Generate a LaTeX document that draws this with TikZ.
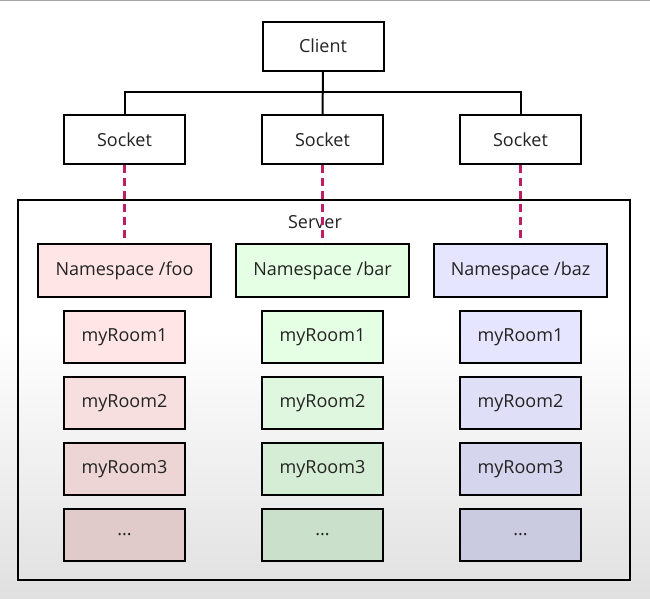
\documentclass[tikz,border=0pt]{standalone}
\usepackage{fontspec}
\setmainfont{Open Sans}
\usepackage{xcolor}
\definecolor{dash_pink}{RGB}{190,30,100}
\definecolor{txt_gray}{RGB}{35,35,35}
\newcommand{\roomdots}{...}
\usetikzlibrary{calc}

\begin{document}
\begin{tikzpicture}[x=1pt,y=-1pt,line width=2pt,
    box/.style={draw,rectangle,minimum width=121pt,minimum height=49pt,inner sep=0pt,
        text=txt_gray,font=\fontsize{18}{21}\selectfont},
    nsbox/.style={box,minimum width=173pt,minimum height=53pt},
    roombox/.style={box,minimum height=52pt},
    link/.style={dash_pink,line width=2.2pt,dash pattern=on 8pt off 5pt}]
            %背景
            \useasboundingbox (0,0) rectangle (650,598);
            \fill[white] (0,0) rectangle (650,330);
            \shade[top color=white,bottom color=black!12] (0,330) rectangle (650,598);
            \draw[black!35,line width=1pt] (0,0.5)--(650,0.5);
            %クライアントとソケット
            \node[box] (client) at (323,46) {Client};
            \node[box] (sock1) at (124.5,139.5) {Socket};
            \node[box] (sock2) at (322.5,139.5) {Socket};
            \node[box] (sock3) at (520.5,139.5) {Socket};
            \coordinate (bus) at (0,92);
            \draw (client)--(sock2);
            \draw (sock1.north)--(sock1.north|-bus)--(sock3.north|-bus)--(sock3.north);
            %サーバ
            \draw (18,200) rectangle (630,580);
            \node[text=txt_gray,font=\fontsize{18}{21}\selectfont] (server) at (315,222) {Server};
            %名前空間とルーム
            \foreach \c/\col/\ns [count=\i] in {124.5/red/foo,322.5/green/bar,520.5/blue/baz}{
                \node[nsbox,fill=\col!10] (ns\i) at (\c,270.5) {Namespace /\ns};
                \foreach \y/\lbl/\dk [count=\j] in {337/myRoom1/100,403/myRoom2/97,469/myRoom3/93,535/\roomdots/88}{
                    \node[roombox,fill=\col!10!white!\dk!black] (room\i\j) at (\c,\y) {\lbl};
                }
            }
            %ソケットから名前空間への点線
            \foreach \i in {1,2,3}{
                \draw[link] (sock\i.south)--(ns\i.north);
            }
        \end{tikzpicture}
\end{document}
